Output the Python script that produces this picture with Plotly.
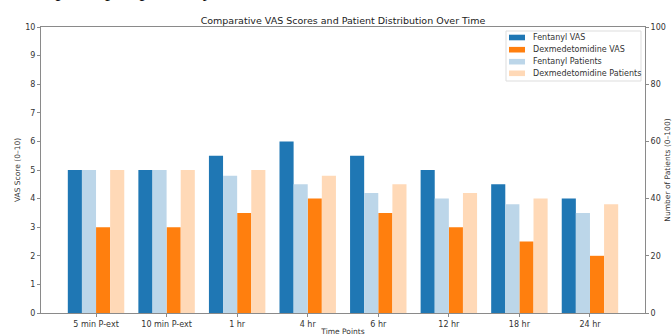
import plotly.graph_objects as go

time_points = ["5 min P-ext", "10 min P-ext", "1 hr", "4 hr", "6 hr", "12 hr", "18 hr", "24 hr"]
fentanyl_vas = [5, 5, 5.5, 6, 5.5, 5, 4.5, 4]
dexmed_vas = [3, 3, 3.5, 4, 3.5, 3, 2.5, 2]
fentanyl_patients = [50, 50, 48, 45, 42, 40, 38, 35]
dexmed_patients = [50, 50, 50, 48, 45, 42, 40, 38]

FONT = "DejaVu Sans"
W, H = 672, 336
ML, MR, MT, MB = 41, 27, 27, 23
idx = list(range(len(time_points)))

series = [
    ("Fentanyl VAS", fentanyl_vas, "#1f77b4", -0.4, "y"),
    ("Fentanyl Patients", fentanyl_patients, "#bcd6e9", -0.2, "y2"),
    ("Dexmedetomidine VAS", dexmed_vas, "#ff7f0e", 0.0, "y"),
    ("Dexmedetomidine Patients", dexmed_patients, "#ffd9b7", 0.2, "y2"),
]

fig = go.Figure()
for name, vals, color, off, ax in series:
    fig.add_trace(go.Bar(x=idx, y=vals, name=name, marker_color=color, offset=off, width=0.2,
                         yaxis=ax, marker_line_width=0, showlegend=False))

axis_color = "#8a8a8a"
tick_font = dict(family=FONT, size=8, color="#333333")
lab_font = dict(family=FONT, size=7.5, color="#333333")

fig.update_layout(
    width=W, height=H,
    margin=dict(l=ML, r=MR, t=MT, b=MB),
    plot_bgcolor="white", paper_bgcolor="white",
    barmode="overlay",
    font=dict(family=FONT, size=8, color="#333333"),
    title=dict(text="Comparative VAS Scores and Patient Distribution Over Time",
               x=0.5, xanchor="center", xref="paper", y=1, yref="paper", yanchor="bottom",
               pad=dict(b=3), font=dict(family=FONT, size=9.5, color="#222222")),
    xaxis=dict(range=[-0.78, 7.78], tickmode="array", tickvals=idx, ticktext=time_points,
               showgrid=False, zeroline=False, showline=True, linecolor=axis_color, linewidth=1,
               mirror=True, ticks="outside", ticklen=3, tickcolor=axis_color, tickfont=tick_font,
               automargin=False,
               title=dict(text="Time Points", font=lab_font, standoff=5)),
    yaxis=dict(range=[0, 10], dtick=1, showgrid=False, zeroline=False, showline=True,
               linecolor=axis_color, linewidth=1, ticks="outside", ticklen=3, tickcolor=axis_color,
               tickfont=tick_font, automargin=False,
               title=dict(text="VAS Score (0–10)", font=lab_font, standoff=3)),
    yaxis2=dict(range=[0, 100], dtick=20, overlaying="y", side="right", showgrid=False, zeroline=False,
                showline=True, linecolor=axis_color, linewidth=1, ticks="outside", ticklen=3,
                tickcolor=axis_color, tickfont=tick_font, automargin=False,
                title=dict(text="Number of Patients (0–100)", font=lab_font, standoff=12)),
)

# custom legend (pixel layout converted to paper coords)
pw, ph = W - ML - MR, H - MT - MB
def px(x):
    return (x - ML) / pw
def py(y):
    return 1 - (y - MT) / ph

legend_order = [0, 2, 1, 3]
fig.add_shape(type="rect", xref="paper", yref="paper", x0=px(506), x1=px(641), y0=py(81), y1=py(31),
              line=dict(color="#dddddd", width=1), fillcolor="rgba(255,255,255,0.85)", layer="above")
row_y = [37.5, 49.7, 61.7, 73.3]
for r, i in enumerate(legend_order):
    name, _, color, _, _ = series[i]
    yc = row_y[r]
    fig.add_shape(type="rect", xref="paper", yref="paper", x0=px(509), x1=px(525),
                  y0=py(yc + 2.8), y1=py(yc - 2.8), line=dict(width=0), fillcolor=color, layer="above")
    fig.add_annotation(text=name, xref="paper", yref="paper", x=px(531), y=py(yc), xanchor="left",
                       yanchor="middle", showarrow=False, font=dict(family=FONT, size=8, color="#333333"))

fig.add_annotation(text="mpared prospectively", xref="paper", yref="paper", x=-0.005, y=1.0,
                   xanchor="left", yanchor="bottom", yshift=24, showarrow=False,
                   font=dict(family="Liberation Serif", size=20, color="#111111"))

fig.write_html("out.html", post_script="document.body.style.margin='0px';",
               config={"displayModeBar": False})
